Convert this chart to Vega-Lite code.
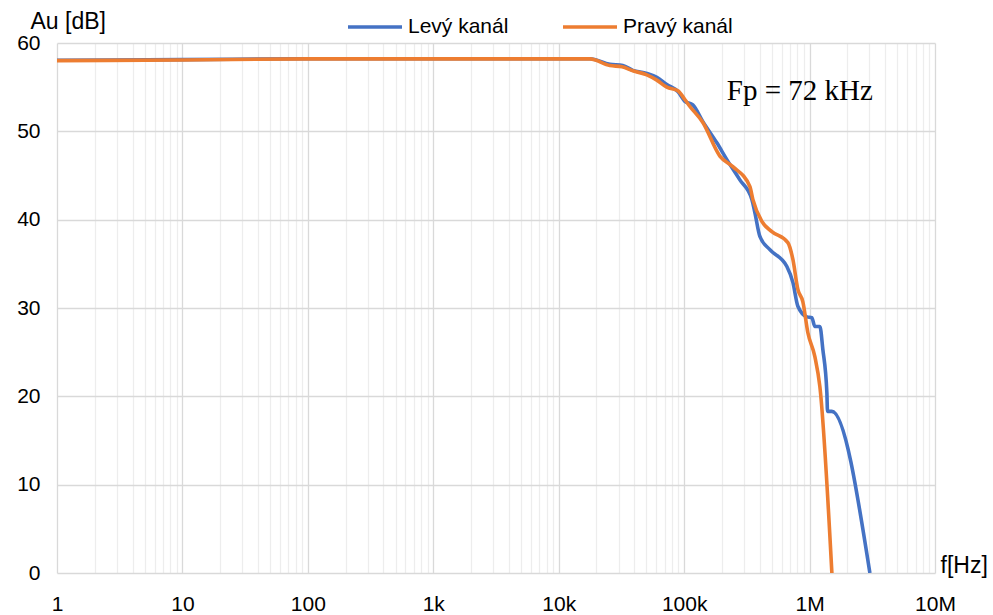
{
  "$schema": "https://vega.github.io/schema/vega-lite/v6.json",
  "width": 878,
  "height": 530,
  "autosize": "none",
  "padding": {"left": 57, "top": 43, "right": 58, "bottom": 42},
  "background": "white",
  "config": {
    "view": {"stroke": null},
    "font": "Liberation Sans",
    "axis": {"labelFont": "Liberation Sans", "labelFontSize": 21, "labelColor": "#000000", "titleFont": "Liberation Sans", "titleFontSize": 23, "titleFontWeight": "normal", "titleColor": "#000000"}
  },
  "data": {
    "values": [
      {"f": 1, "db": 58.05, "s": "Levý kanál"},
      {"f": 10, "db": 58.12, "s": "Levý kanál"},
      {"f": 100, "db": 58.22, "s": "Levý kanál"},
      {"f": 1000, "db": 58.22, "s": "Levý kanál"},
      {"f": 10000, "db": 58.22, "s": "Levý kanál"},
      {"f": 17700, "db": 58.22, "s": "Levý kanál"},
      {"f": 25560, "db": 57.6, "s": "Levý kanál"},
      {"f": 32450, "db": 57.45, "s": "Levý kanál"},
      {"f": 39000, "db": 56.9, "s": "Levý kanál"},
      {"f": 50430, "db": 56.55, "s": "Levý kanál"},
      {"f": 60580, "db": 56.1, "s": "Levý kanál"},
      {"f": 72780, "db": 55.3, "s": "Levý kanál"},
      {"f": 89100, "db": 54.5, "s": "Levý kanál"},
      {"f": 101300, "db": 53.4, "s": "Levý kanál"},
      {"f": 117300, "db": 53.0, "s": "Levý kanál"},
      {"f": 141000, "db": 51.1, "s": "Levý kanál"},
      {"f": 182300, "db": 48.7, "s": "Levý kanál"},
      {"f": 219000, "db": 46.8, "s": "Levý kanál"},
      {"f": 278100, "db": 44.5, "s": "Levý kanál"},
      {"f": 346700, "db": 42.3, "s": "Levý kanál"},
      {"f": 366300, "db": 40.8, "s": "Levý kanál"},
      {"f": 401600, "db": 38.1, "s": "Levý kanál"},
      {"f": 482500, "db": 36.6, "s": "Levý kanál"},
      {"f": 659200, "db": 34.7, "s": "Levý kanál"},
      {"f": 736200, "db": 32.9, "s": "Levý kanál"},
      {"f": 806700, "db": 30.2, "s": "Levý kanál"},
      {"f": 951700, "db": 29.0, "s": "Levý kanál"},
      {"f": 1043000, "db": 28.9, "s": "Levý kanál"},
      {"f": 1102000, "db": 27.9, "s": "Levý kanál"},
      {"f": 1208000, "db": 27.9, "s": "Levý kanál"},
      {"f": 1276000, "db": 25.3, "s": "Levý kanál"},
      {"f": 1374000, "db": 20.4, "s": "Levý kanál"},
      {"f": 1390000, "db": 18.3, "s": "Levý kanál"},
      {"f": 1506000, "db": 18.3, "s": "Levý kanál"},
      {"f": 3026000, "db": 0, "s": "Levý kanál"},
      {"f": 1, "db": 58.0, "s": "Pravý kanál"},
      {"f": 10, "db": 58.08, "s": "Pravý kanál"},
      {"f": 100, "db": 58.2, "s": "Pravý kanál"},
      {"f": 1000, "db": 58.2, "s": "Pravý kanál"},
      {"f": 10000, "db": 58.2, "s": "Pravý kanál"},
      {"f": 17700, "db": 58.2, "s": "Pravý kanál"},
      {"f": 25560, "db": 57.45, "s": "Pravý kanál"},
      {"f": 32000, "db": 57.3, "s": "Pravý kanál"},
      {"f": 39000, "db": 56.85, "s": "Pravý kanál"},
      {"f": 50430, "db": 56.4, "s": "Pravý kanál"},
      {"f": 60580, "db": 55.8, "s": "Pravý kanál"},
      {"f": 72780, "db": 55.0, "s": "Pravý kanál"},
      {"f": 89100, "db": 54.6, "s": "Pravý kanál"},
      {"f": 101300, "db": 53.6, "s": "Pravý kanál"},
      {"f": 110000, "db": 52.9, "s": "Pravý kanál"},
      {"f": 141000, "db": 51.0, "s": "Pravý kanál"},
      {"f": 192600, "db": 47.2, "s": "Pravý kanál"},
      {"f": 244300, "db": 46.0, "s": "Pravý kanál"},
      {"f": 334100, "db": 43.75, "s": "Pravý kanál"},
      {"f": 353000, "db": 42.3, "s": "Pravý kanál"},
      {"f": 416500, "db": 39.8, "s": "Pravý kanál"},
      {"f": 500400, "db": 38.65, "s": "Pravý kanál"},
      {"f": 671300, "db": 37.4, "s": "Pravý kanál"},
      {"f": 736200, "db": 35.5, "s": "Pravý kanál"},
      {"f": 806700, "db": 32.1, "s": "Pravý kanál"},
      {"f": 884300, "db": 30.7, "s": "Pravý kanál"},
      {"f": 969400, "db": 27.2, "s": "Pravý kanál"},
      {"f": 1102000, "db": 24.5, "s": "Pravý kanál"},
      {"f": 1208000, "db": 21.1, "s": "Pravý kanál"},
      {"f": 1506000, "db": 0, "s": "Pravý kanál"}
    ]
  },
  "layer": [
    {
      "mark": {"type": "line", "strokeWidth": 3.6, "interpolate": "monotone", "clip": true},
      "encoding": {
        "x": {
          "field": "f", "type": "quantitative",
          "scale": {"type": "log", "domain": [1, 10000000], "nice": false},
          "axis": {
            "values": [1,2,3,4,5,6,7,8,9,10,20,30,40,50,60,70,80,90,100,200,300,400,500,600,700,800,900,1000,2000,3000,4000,5000,6000,7000,8000,9000,10000,20000,30000,40000,50000,60000,70000,80000,90000,100000,200000,300000,400000,500000,600000,700000,800000,900000,1000000,2000000,3000000,4000000,5000000,6000000,7000000,8000000,9000000,10000000],
            "labelExpr": "abs(log(datum.value)/LN10 - round(log(datum.value)/LN10)) < 0.001 ? (datum.value >= 1000000 ? format(datum.value/1000000,'d') + 'M' : datum.value >= 1000 ? format(datum.value/1000,'d') + 'k' : format(datum.value,'d')) : ''",
            "grid": true,
            "gridColor": {"condition": {"test": "abs(log(datum.value)/LN10 - round(log(datum.value)/LN10)) < 0.001", "value": "#d9d9d9"}, "value": "#ededed"},
            "gridWidth": 1.3,
            "domain": false,
            "ticks": false,
            "labelPadding": 20,
            "labelFlush": false,
            "labelOverlap": false,
            "labelBound": false,
            "title": "f[Hz]",
            "titleAngle": 0,
            "titleX": 883,
            "titleY": -8,
            "titleAlign": "left",
            "titleBaseline": "middle"
          }
        },
        "y": {
          "field": "db", "type": "quantitative",
          "scale": {"domain": [0, 60], "nice": false},
          "axis": {
            "values": [0, 10, 20, 30, 40, 50, 60],
            "grid": true,
            "gridColor": "#d9d9d9",
            "gridWidth": 1.3,
            "domain": false,
            "ticks": false,
            "labelPadding": 17,
            "title": "Au [dB]",
            "titleAngle": 0,
            "titleX": -27,
            "titleY": -22,
            "titleAlign": "left",
            "titleBaseline": "middle"
          }
        },
        "color": {
          "field": "s", "type": "nominal",
          "scale": {"domain": ["Levý kanál", "Pravý kanál"], "range": ["#4472C4", "#ED7D31"]},
          "legend": {
            "title": null,
            "orient": "none",
            "direction": "horizontal",
            "legendX": 289,
            "legendY": -45,
            "symbolType": "stroke",
            "symbolSize": 2916,
            "symbolStrokeWidth": 3.6,
            "labelFont": "Liberation Sans",
            "labelFontSize": 21,
            "labelColor": "#000000",
            "labelOffset": 4,
            "columnPadding": 46
          }
        }
      }
    },
    {
      "data": {"values": [{"f": 219000, "db": 53.6, "label": "Fp = 72 kHz"}]},
      "mark": {"type": "text", "font": "Liberation Serif", "fontSize": 29, "align": "left", "baseline": "alphabetic", "color": "#000000"},
      "encoding": {
        "x": {"field": "f", "type": "quantitative"},
        "y": {"field": "db", "type": "quantitative"},
        "text": {"field": "label"}
      }
    }
  ]
}
